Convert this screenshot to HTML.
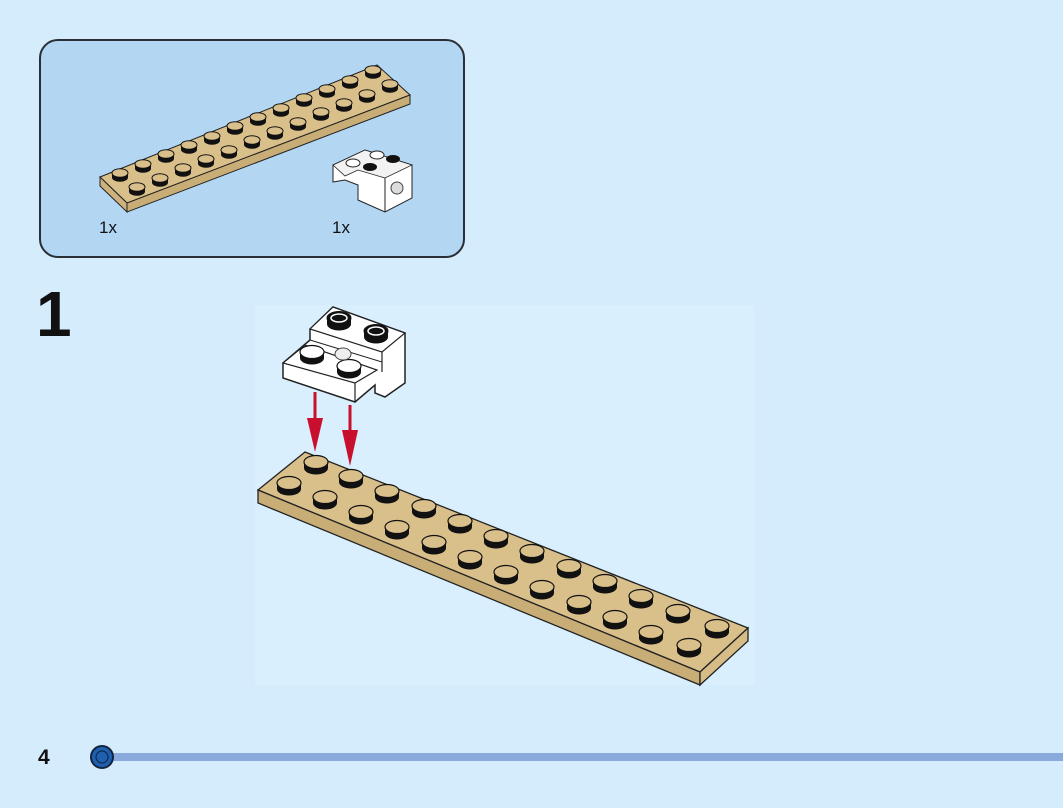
<!DOCTYPE html>
<html><head><meta charset="utf-8"><style>
html,body{margin:0;padding:0;background:#d5ecfc;}
body{width:1063px;height:803px;overflow:hidden;position:relative;font-family:"Liberation Sans",sans-serif;}
</style></head><body>
<svg width="1063" height="803" viewBox="0 0 1063 803" xmlns="http://www.w3.org/2000/svg">
<defs>
<g id="ts"><path d="M-12,0 v6 a12,6.5 0 0 0 24,0 v-6 z" fill="#111"/><ellipse cx="0" cy="0" rx="12" ry="6.5" fill="#d9bf8a" stroke="#111" stroke-width="1.2"/></g>
<g id="ss"><path d="M-8,0 v4.5 a8,4.3 0 0 0 16,0 v-4.5 z" fill="#111"/><ellipse cx="0" cy="0" rx="8" ry="4.3" fill="#d9bf8a" stroke="#111" stroke-width="1"/></g>
<g id="ws"><path d="M-12,0 v6 a12,6.5 0 0 0 24,0 v-6 z" fill="#111"/><ellipse cx="0" cy="0" rx="12" ry="6.5" fill="#fff" stroke="#111" stroke-width="1.2"/></g>
<g id="bs"><path d="M-12,0 v6 a12,6.5 0 0 0 24,0 v-6 z" fill="#111"/><ellipse cx="0" cy="0" rx="12" ry="6.5" fill="#111" stroke="#111"/><ellipse cx="0" cy="0" rx="8" ry="4" fill="#111" stroke="#fff" stroke-width="1.5"/></g>
</defs>
<rect x="255" y="305" width="500" height="380" fill="#d9effd"/>
<!-- parts box -->
<rect x="40" y="40" width="424" height="217" rx="18" fill="#b3d6f3" stroke="#2a2f36" stroke-width="2"/>
<polygon points="100,177 377,65 410,95 127,203" fill="#d9bf8a" stroke="#222" stroke-width="1"/>
<polygon points="100,177 127,203 127,212 100,186" fill="#cdb27d" stroke="#222" stroke-width="1"/>
<polygon points="127,203 410,95 410,104 127,212" fill="#c9ad76" stroke="#222" stroke-width="1"/>
<g id="smallstuds">
<use href="#ss" x="120" y="173"/><use href="#ss" x="143" y="164"/><use href="#ss" x="166" y="154"/><use href="#ss" x="189" y="145"/><use href="#ss" x="212" y="136"/><use href="#ss" x="235" y="126"/><use href="#ss" x="258" y="117"/><use href="#ss" x="281" y="108"/><use href="#ss" x="304" y="98"/><use href="#ss" x="327" y="89"/><use href="#ss" x="350" y="80"/><use href="#ss" x="373" y="70"/>
<use href="#ss" x="137" y="187"/><use href="#ss" x="160" y="178"/><use href="#ss" x="183" y="168"/><use href="#ss" x="206" y="159"/><use href="#ss" x="229" y="150"/><use href="#ss" x="252" y="140"/><use href="#ss" x="275" y="131"/><use href="#ss" x="298" y="122"/><use href="#ss" x="321" y="112"/><use href="#ss" x="344" y="103"/><use href="#ss" x="367" y="94"/><use href="#ss" x="390" y="84"/>
</g>
<!-- small white brick -->
<polygon points="333,165 365,150 412,165 412,198 385,212 358,200 358,185 345,180 333,182" fill="#fff" stroke="#222" stroke-width="1"/>
<polygon points="333,165 365,150 412,165 385,178 358,170 345,176" fill="#f2f2f2" stroke="#222" stroke-width="0.8"/>
<line x1="385" y1="178" x2="385" y2="212" stroke="#222"/>
<circle cx="397" cy="188" r="6" fill="#ddd" stroke="#444"/>
<ellipse cx="353" cy="163" rx="7" ry="4" fill="#fff" stroke="#222"/>
<ellipse cx="377" cy="155" rx="7" ry="4" fill="#fff" stroke="#222"/>
<ellipse cx="370" cy="167" rx="7" ry="4" fill="#111"/>
<ellipse cx="393" cy="159" rx="7" ry="4" fill="#111"/>
<text x="99" y="233" font-size="17" fill="#111">1x</text>
<text x="332" y="233" font-size="17" fill="#111">1x</text>
<!-- step number -->
<text x="36" y="336" font-size="64" font-weight="bold" fill="#111">1</text>
<!-- main plate -->
<polygon points="258,490 305,452 748,628 700,672" fill="#d9bf8a" stroke="#222" stroke-width="1.3"/>
<polygon points="258,490 700,672 700,685 258,503" fill="#c9ad76" stroke="#222" stroke-width="1.3"/>
<polygon points="700,672 748,628 748,641 700,685" fill="#d6bc86" stroke="#222" stroke-width="1.3"/>
<g>
<use href="#ts" x="316" y="462"/><use href="#ts" x="351" y="476"/><use href="#ts" x="387" y="491"/><use href="#ts" x="424" y="506"/><use href="#ts" x="460" y="521"/><use href="#ts" x="496" y="536"/><use href="#ts" x="532" y="551"/><use href="#ts" x="569" y="566"/><use href="#ts" x="605" y="581"/><use href="#ts" x="641" y="596"/><use href="#ts" x="678" y="611"/><use href="#ts" x="717" y="626"/>
<use href="#ts" x="289" y="483"/><use href="#ts" x="325" y="497"/><use href="#ts" x="361" y="512"/><use href="#ts" x="397" y="527"/><use href="#ts" x="434" y="542"/><use href="#ts" x="470" y="557"/><use href="#ts" x="506" y="572"/><use href="#ts" x="542" y="587"/><use href="#ts" x="579" y="602"/><use href="#ts" x="615" y="617"/><use href="#ts" x="651" y="632"/><use href="#ts" x="689" y="645"/>
</g>
<!-- arrows -->
<line x1="315" y1="392" x2="315" y2="430" stroke="#c8102e" stroke-width="3"/>
<polygon points="307,418 323,418 315,452" fill="#c8102e"/>
<line x1="350" y1="405" x2="350" y2="440" stroke="#c8102e" stroke-width="3"/>
<polygon points="342,430 358,430 350,466" fill="#c8102e"/>
<!-- main white brick -->
<polygon points="310,329 333,307 405,333 405,383 385,397 375,393 375,385 355,402 283,378 283,363 310,340" fill="#fff" stroke="#222" stroke-width="1.5"/>
<polygon points="310,329 333,307 405,333 382,352" fill="#fff" stroke="#222" stroke-width="1.2"/>
<line x1="382" y1="352" x2="382" y2="372" stroke="#222" stroke-width="1.2"/>
<polygon points="283,363 305,345 377,370 355,383" fill="#fff" stroke="#222" stroke-width="1.2"/>
<line x1="355" y1="383" x2="355" y2="402" stroke="#222" stroke-width="1.2"/>
<line x1="310" y1="340" x2="382" y2="362" stroke="#222" stroke-width="1"/>
<use href="#bs" x="339" y="318"/>
<use href="#bs" x="376" y="331"/>
<use href="#ws" x="312" y="352"/>
<use href="#ws" x="349" y="366"/>
<ellipse cx="343" cy="354" rx="8" ry="6" fill="#eee" stroke="#444"/>
<!-- footer -->
<text x="38" y="764" font-size="21" font-weight="bold" fill="#111">4</text>
<rect x="100" y="753" width="963" height="8" fill="#8aa9dc"/>
<circle cx="102" cy="757" r="11" fill="#1f5fb0" stroke="#14243d" stroke-width="2"/>
<circle cx="102" cy="757" r="6" fill="#1f5fb0" stroke="#0f2a50" stroke-width="1.2"/>
</svg>
</body></html>
